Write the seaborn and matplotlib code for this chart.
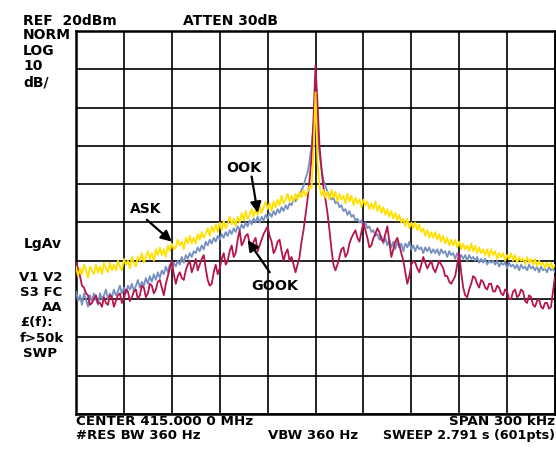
import numpy as np
import pandas as pd
import matplotlib
matplotlib.use("Agg")
import matplotlib.pyplot as plt
import seaborn as sns

# sweep: offset from the 415 MHz centre in kHz, 241 points over the 300 kHz span
freq_khz = np.linspace(-150, 150, 241)

ask_db = [-41.5, -44, -42, -43.5, -41, -42.5, -44.5, -41.5, -42.5, -43.5,
          -41, -43, -41.5, -43.5, -40.5, -42, -43, -40.5, -42.5, -41,
          -42.5, -40, -41.5, -42.5, -39.5, -41, -40, -42, -39, -40.5,
          -41.5, -39, -40, -38, -40.5, -39, -37.5, -39.5, -38, -40,
          -37, -38.5, -36.5, -38.5, -37, -39, -36, -37.5, -35.5, -37,
          -36.5, -34.5, -36, -35, -37, -34, -35.5, -33.5, -35.5, -34,
          -35.5, -33, -34.5, -32.5, -34, -33, -31.5, -33.5, -31, -32.5,
          -30.5, -32.5, -30, -32, -29.5, -31.5, -30.5, -28.5, -30.5, -29,
          -31, -28.5, -30, -27.5, -29.5, -27, -29, -28, -26.5, -28.5,
          -26.5, -28, -25.5, -27.5, -26, -24.5, -26.5, -25, -27, -24.5,
          -26, -24, -25.5, -23, -25, -24, -22.5, -24.5, -23, -24.5,
          -22.5, -24, -22, -23.5, -21.5, -23, -22, -20.5, -21, -12,
          4,
          -14, -20.5, -23, -21.5, -23.5, -22, -24, -21.5, -23.5,
          -22, -24.5, -22.5, -24, -23, -25, -22.5, -24.5, -23, -25.5,
          -23.5, -25, -24, -26, -24, -25.5, -24.5, -26.5, -25, -26.5,
          -24.5, -27, -25.5, -27.5, -26, -28, -26.5, -28.5, -27, -29,
          -27.5, -29.5, -28, -30, -29, -31, -29, -31.5, -30, -31.5,
          -30, -32, -30.5, -32.5, -31.5, -33.5, -32, -34, -32.5, -34,
          -32.5, -34.5, -33, -35, -33.5, -35.5, -34, -36, -34.5, -36,
          -34.5, -36.5, -35, -37, -35.5, -37, -36, -37.5, -35.5, -37.5,
          -36, -38, -36.5, -38, -37, -38.5, -37, -39, -37, -38.5,
          -37.5, -39.5, -38, -39, -38, -40, -38.5, -39.5, -38, -40,
          -38.5, -40.5, -39, -40, -39.5, -41, -39, -40.5, -39.5, -41,
          -39.5, -41.5, -40, -41, -40.5, -42, -40.5, -41.5, -40.5, -42, -41]

ook_db = [-48, -50.5, -49, -51.5, -48.5, -50, -52, -49, -50.5, -48.5,
          -50, -51.5, -48.5, -50, -49, -47.5, -50, -48.5, -49.5, -47.5,
          -49, -48, -46.5, -48.5, -47, -48.5, -46.5, -47.5, -46, -48,
          -46.5, -45, -47, -45.5, -46.5, -44.5, -46, -44, -45.5, -43.5,
          -45, -43, -44.5, -42.5, -43.5, -41.5, -43, -41, -42, -40.5,
          -41.5, -40, -41, -39, -40.5, -38.5, -39.5, -38, -39, -37.5,
          -38, -36.5, -37.5, -36, -37, -35, -36, -34.5, -35.5, -34,
          -35, -33.5, -34.5, -33, -34, -32.5, -33.5, -32, -33, -31.5,
          -32.5, -31, -32, -30.5, -31.5, -30, -31, -29.5, -30.5, -29,
          -30, -28.5, -30, -28.5, -29.5, -28, -29, -27.5, -28.5, -27,
          -28, -26.5, -27.5, -26, -27, -25.5, -26.5, -25, -25.5, -24,
          -24.5, -23, -23, -21.5, -20.5, -18.5, -17, -14, -10, -5,
          4,
          -6, -12, -16, -19, -20.5, -22, -23, -24, -23.5,
          -25, -24.5, -26, -25.5, -27, -26.5, -28, -27, -28.5, -28,
          -29.5, -29, -30, -29.5, -31, -30, -31.5, -31, -32.5, -32,
          -33.5, -33, -34.5, -33.5, -35.5, -34, -36, -34.5, -36.5, -35,
          -37, -35, -36.5, -35.5, -37.5, -35.5, -36.5, -35, -37, -36,
          -37.5, -36, -37, -36.5, -38, -36.5, -37.5, -36.5, -38, -37,
          -38, -37, -38.5, -37, -38, -37.5, -39, -37.5, -38.5, -38,
          -39.5, -38, -39, -38.5, -39.5, -38.5, -40, -38.5, -39.5, -39,
          -40, -39, -40.5, -39.5, -40.5, -39.5, -41, -40, -40.5, -40,
          -41, -40, -41.5, -40.5, -41, -40.5, -42, -40.5, -41.5, -41,
          -42, -41, -42.5, -41, -42, -41.5, -42.5, -41, -42, -41.5,
          -42.5, -41.5, -43, -41.5, -42.5, -42, -43, -41.5, -42.5, -42, -43]

gook_db = [-40.5, -42, -44, -46.5, -47, -48.5, -49, -51.5, -51, -50,
           -49, -51, -51, -52, -49.5, -51, -51.5, -49, -49.5, -52,
           -50.5, -49, -48.5, -51, -50, -47.5, -48, -50.5, -49.5, -48,
           -47.5, -50, -49, -46.5, -47, -49.5, -48.5, -46, -46.5, -48.5,
           -47.5, -45.5, -45, -47, -49, -46, -44, -42, -40, -43.5,
           -46, -44, -43, -44.5, -45, -42.5, -41, -40, -43, -41.5,
           -39.5, -42.5, -41, -39.5, -38.5, -42, -45, -46.5, -46, -43,
           -41, -43.5, -42, -39.5, -38, -41, -40, -37.5, -36, -39,
           -38, -34.5, -32, -36, -35, -33.5, -33, -35.5, -37, -35,
           -34, -37.5, -36, -34.5, -33, -32, -31, -33.5, -35, -38,
           -37, -35, -34.5, -37.5, -40, -38, -37, -40, -39, -41,
           -43, -41, -39, -35, -32, -28, -24, -19, -13, -3,
           11,
           1, -10, -16, -21, -24, -27.5, -32, -37, -41,
           -42.5, -41, -39, -37, -36.5, -39, -38, -35.5, -34, -33,
           -32, -34, -35, -32.5, -30, -32, -34, -36.5, -36, -34,
           -33, -31.5, -32.5, -34.5, -35, -33, -31, -35, -39, -37,
           -35, -34, -36, -38, -40, -43, -46, -44, -41, -40,
           -40.5, -42, -43, -41, -39, -40.5, -42, -41, -40, -42,
           -43, -41.5, -40, -41, -42, -44, -44, -45.5, -46, -45,
           -44, -41, -38, -43, -47, -49, -49.5, -47.5, -46, -44,
           -44.5, -46, -47, -45, -45.5, -47, -47.5, -46, -46, -48,
           -48, -46.5, -47, -48.5, -49, -47.5, -48, -50, -50, -48,
           -47.5, -49.5, -49, -47.5, -48, -50.5, -51, -49, -49.5, -51.5,
           -52, -50.5, -50, -52, -52.5, -51, -51, -52.5, -52, -48, -44]

df = pd.DataFrame({"freq": freq_khz, "ASK": ask_db, "OOK": ook_db, "GOOK": gook_db})

W, H = 556, 451
sns.set_style("white")
plt.rcParams["font.family"] = ["DejaVu Sans"]
plt.rcParams["font.weight"] = "bold"
plt.rcParams["text.color"] = "black"

fig = plt.figure(figsize=(W / 100, H / 100), dpi=100)
ax = fig.add_axes([76 / W, 1 - 414 / H, 479 / W, 383 / H])

# draw order: OOK under, GOOK, then the ASK spike on top
sns.lineplot(data=df, x="freq", y="OOK", ax=ax, color="#7590c0", lw=1.3, zorder=3)
sns.lineplot(data=df, x="freq", y="GOOK", ax=ax, color="#b5154b", lw=1.3, zorder=4)
sns.lineplot(data=df, x="freq", y="ASK", ax=ax, color="#ffe000", lw=1.3, zorder=5)

ax.set_xlim(-150, 150)
ax.set_ylim(-80, 20)
ax.set_xticks(np.arange(-150, 151, 30))
ax.set_yticks(np.arange(-80, 21, 10))
ax.set_xticklabels([])
ax.set_yticklabels([])
ax.tick_params(length=0)
ax.set_xlabel("")
ax.set_ylabel("")
ax.grid(True, color="black", lw=1.2, zorder=2)
ax.set_axisbelow(True)
for s in ax.spines.values():
    s.set_color("black")
    s.set_linewidth(1.8)

fs = 10


def ftext(px, py, s, ha="left", size=fs):
    fig.text(px / W, 1 - py / H, s, ha=ha, va="baseline", fontsize=size,
             fontweight="bold", color="black")


ftext(23, 25, "REF  20dBm")
ftext(183, 25, "ATTEN 30dB")
for i, s in enumerate(["NORM", "LOG", "10", "dB/"]):
    ftext(23, 39 + i * 15.7, s)
ftext(62, 248, "LgAv", ha="right")
ftext(62, 281, "V1 V2", ha="right", size=9.5)
ftext(62, 296, "S3 FC", ha="right", size=9.5)
ftext(62, 311, "AA", ha="right", size=9.5)
ftext(20, 326, "£(f):", size=9.5)
ftext(20, 342, "f>50k", size=9.5)
ftext(23, 357, "SWP", size=9.5)

ftext(76, 425, "CENTER 415.000 0 MHz", size=9.7)
ftext(555, 425, "SPAN 300 kHz", ha="right", size=9.7)
ftext(76, 439, "#RES BW 360 Hz", size=9.5)
ftext(268, 439, "VBW 360 Hz", size=9.5)
ftext(555, 439, "SWEEP 2.791 s (601pts)", ha="right", size=9.2)

arrow = dict(arrowstyle="-|>", color="black", lw=1.6, mutation_scale=16, shrinkA=0, shrinkB=0)
ax.text(-116, -27.5, "ASK", fontsize=fs, fontweight="bold", va="baseline", zorder=6)
ax.annotate("", xy=(-90, -35), xytext=(-105.6, -29.3), arrowprops=arrow, zorder=6)
ax.text(-55.6, -16.8, "OOK", fontsize=fs + 0.3, fontweight="bold", va="baseline", zorder=6)
ax.annotate("", xy=(-36.2, -27.5), xytext=(-40, -18), arrowprops=arrow, zorder=6)
ax.text(-40, -47.6, "GOOK", fontsize=fs + 0.3, fontweight="bold", va="baseline", zorder=6)
ax.annotate("", xy=(-42.5, -34.6), xytext=(-28.7, -43), arrowprops=arrow, zorder=6)

fig.savefig("out.png", dpi=100)
